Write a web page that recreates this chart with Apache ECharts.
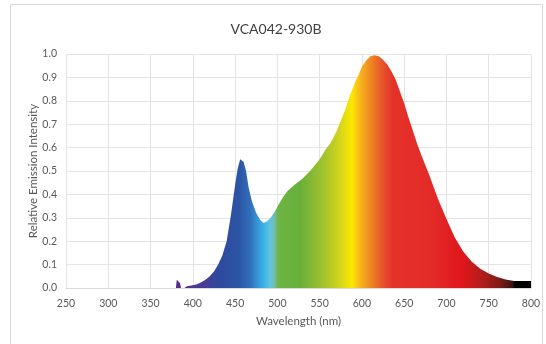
<!DOCTYPE html>
<html>
<head>
<meta charset="utf-8">
<script src="https://cdn.jsdelivr.net/npm/echarts@6/dist/echarts.min.js"></script>
<style>
  html, body { margin: 0; padding: 0; background: #fff; }
  #spd { width: 546px; height: 344px; }
</style>
</head>
<body>
<div id="spd"></div>
<script>
  // values
  var wavelengths = [380, 381, 383, 385, 386, 390, 393, 400, 405, 410, 415, 420, 425, 430, 435, 440, 445, 450, 453, 456, 458, 460, 463, 466, 470, 475, 480, 484, 488, 492, 497, 502, 507, 512, 520, 530, 540, 550, 558, 563, 570, 575, 580, 586, 592, 596, 600, 605, 610, 615, 620, 625, 630, 635, 640, 645, 650, 655, 660, 665, 670, 680, 690, 700, 710, 720, 730, 740, 750, 760, 770, 780, 800];
  var intensity = [0.0, 0.035, 0.043, 0.02, 0.0, 0.0, 0.008, 0.012, 0.016, 0.025, 0.035, 0.05, 0.07, 0.1, 0.14, 0.2, 0.31, 0.44, 0.51, 0.55, 0.553, 0.54, 0.5, 0.43, 0.37, 0.32, 0.29, 0.278, 0.285, 0.3, 0.327, 0.36, 0.39, 0.415, 0.44, 0.468, 0.505, 0.55, 0.597, 0.62, 0.67, 0.715, 0.76, 0.825, 0.88, 0.91, 0.945, 0.972, 0.99, 0.995, 0.99, 0.975, 0.955, 0.925, 0.89, 0.84, 0.79, 0.73, 0.675, 0.62, 0.57, 0.48, 0.38, 0.295, 0.215, 0.155, 0.112, 0.082, 0.062, 0.047, 0.036, 0.03, 0.03];
  var xTicks = [250, 800, 50];
  var yTicks = [0, 1, 0.1];

  // colour of the fill at a given wavelength
  var spectrumColors = [
    [380, '#5a2b86'], [400, '#4f3590'], [415, '#463d97'], [430, '#2f4a9d'],
    [455, '#2c54a5'], [468, '#2f6fba'], [478, '#3a9bd8'], [484, '#36b5e8'],
    [491, '#62c2e0'], [496, '#6fbfb8'], [501, '#6cb444'], [527, '#69af3b'],
    [558, '#a9c52a'], [574, '#d4d51c'], [588, '#fce800'], [598, '#f8b51b'],
    [610, '#ee8a22'], [623, '#e8572a'], [637, '#e4322a'], [684, '#e32a28'],
    [718, '#e0161c'], [743, '#b01d1c'], [763, '#7f1b16'], [778, '#3a1510'],
    [781, '#000000'], [800, '#000000']
  ];

  var lo = wavelengths[0], hi = wavelengths[wavelengths.length - 1];
  var stops = spectrumColors.map(function (c) {
    return { offset: (c[0] - lo) / (hi - lo), color: c[1] };
  });

  var points = wavelengths.map(function (w, i) { return [w, intensity[i]]; });

  var myChart = echarts.init(document.getElementById('spd'));
  var labelColor = '#595959';
  var font = 'Lato, "Open Sans", sans-serif';

  myChart.setOption({
    animation: false,
    title: {
      text: 'VCA042-930B',
      left: 271,
      top: 17,
      textAlign: 'center',
      textStyle: { color: '#404040', fontSize: 14, fontWeight: 'normal', fontFamily: font }
    },
    graphic: [{
      type: 'rect',
      shape: { x: 10.5, y: 4.5, width: 532, height: 350 },
      style: { fill: 'none', stroke: '#d9d9d9', lineWidth: 1 },
      silent: true,
      z: -1
    }],
    grid: { left: 66, right: 15, top: 54, bottom: 56 },
    xAxis: {
      type: 'value',
      min: xTicks[0],
      max: xTicks[1],
      interval: xTicks[2],
      name: 'Wavelength (nm)',
      nameLocation: 'middle',
      nameGap: 27,
      nameTextStyle: { color: labelColor, fontSize: 11.5, fontFamily: font },
      axisLine: { show: true, lineStyle: { color: '#d9d9d9' } },
      axisTick: { show: false },
      axisLabel: { color: labelColor, fontSize: 10.5, margin: 10, fontFamily: font },
      splitLine: { show: true, lineStyle: { color: '#e4e4e4' } }
    },
    yAxis: {
      type: 'value',
      min: yTicks[0],
      max: yTicks[1],
      interval: yTicks[2],
      name: 'Relative Emission Intensity',
      nameLocation: 'middle',
      nameGap: 27,
      nameMoveOverlap: false,
      nameTextStyle: { color: labelColor, fontSize: 11.5, fontFamily: font },
      axisLine: { show: false },
      axisTick: { show: false },
      axisLabel: {
        color: labelColor,
        fontSize: 10.5,
        margin: 9,
        fontFamily: font,
        formatter: function (v) { return v.toFixed(1); }
      },
      splitLine: { show: true, lineStyle: { color: '#e4e4e4' } }
    },
    series: [{
      type: 'line',
      data: points,
      showSymbol: false,
      silent: true,
      lineStyle: { width: 0 },
      areaStyle: {
        opacity: 1,
        color: new echarts.graphic.LinearGradient(0, 0, 1, 0, stops, false)
      }
    }]
  });
</script>
</body>
</html>
